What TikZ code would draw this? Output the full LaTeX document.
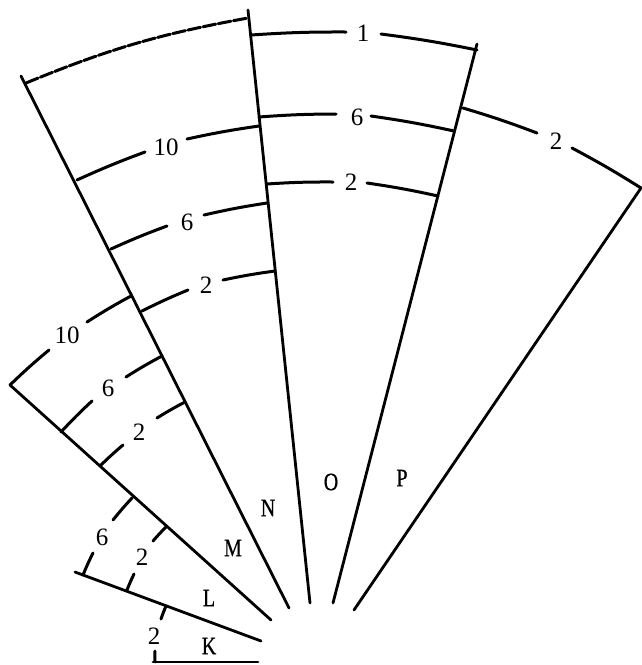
\documentclass[tikz,border=0pt]{standalone}
\usepackage{fontspec}
\setmainfont{Liberation Serif}
\newfontfamily\capfont[FakeStretch=0.8,FakeBold=0.6]{Liberation Serif}
\tikzset{
  spoke/.style={line width=2.8pt, line cap=round},
  ring/.style={line width=3pt, line cap=round},
  ringlabel/.style={font=\fontsize{25}{25}\selectfont, inner sep=0pt},
  zonelabel/.style={font=\capfont\fontsize{25}{25}\selectfont, inner sep=0pt}
}

\begin{document}
\begin{tikzpicture}[x=1pt, y=-1pt]
    \useasboundingbox (0,0) rectangle (642,665);
    % radial lines
    \foreach \nm/\ax/\ay/\bx/\by in {k/153/662/258/662, l/75/572/261/641, m/10/385/271/620,
        n/21/76/289/608, o/248/10/310/603, p/477/44/333/603, q/641/188/354/610}
    {
        \coordinate (\nm a) at (\ax,\ay);
        \coordinate (\nm b) at (\bx,\by);
        \draw[spoke] (\nm a) -- (\nm b);
    }
    % rings, each broken round its number
    \foreach \nm/\t/\ax/\ay/\bx/\by/\lx/\ly/\cx/\cy/\dx/\dy in {
        na/10/77/180/145/152/166/147/187/139/259/126,
        nb/6/111/249/167/226/187/222/204/215/267/203,
        nc/2/142/311/188/290/206/285/223/280/275/271,
        oa/1/251/35/346/32/363/33/381/34/477/50,
        ob/6/259/117/336/114/357/117/371/116/454/131,
        oc/2/267/184/333/182/351/182/367/183/438/196,
        pa/2/463/108/537/133/556/141/572/148/641/188,
        ma/10/10/385/49/350/67/335/87/322/131/296,
        mb/6/61/432/92/401/108/388/126/377/162/356,
        mc/2/100/466/123/445/139/432/157/418/185/402,
        la/6/83/575/93/553/102/537/113/520/132/498,
        lb/2/127/590/134/574/142/557/153/541/166/527,
        ka/2/155/662/155/651/154/636/161/619/166/606}
    {
        \node[ringlabel] (\nm) at (\lx,\ly) {\t};
        \coordinate (\nm a) at (\ax,\ay);
        \coordinate (\nm b) at (\bx,\by);
        \coordinate (\nm c) at (\cx,\cy);
        \coordinate (\nm d) at (\dx,\dy);
        \draw[ring] (\nm a) to[bend left=2] (\nm b);
        \draw[ring] (\nm c) to[bend left=2] (\nm d);
    }
    % outer ring of N
    \coordinate (topa) at (26,83);
    \coordinate (topb) at (248,18);
    \draw[ring, dash pattern=on 13pt off 2.5pt] (topa) to[bend left=6] (topb);
    % zone letters
    \foreach \nm/\x/\y in {K/209/646, L/209/598, M/233/548, N/268/508, O/331/482, P/402/478}
        \node[zonelabel] (zone\nm) at (\x,\y) {\nm};
\end{tikzpicture}
\end{document}
